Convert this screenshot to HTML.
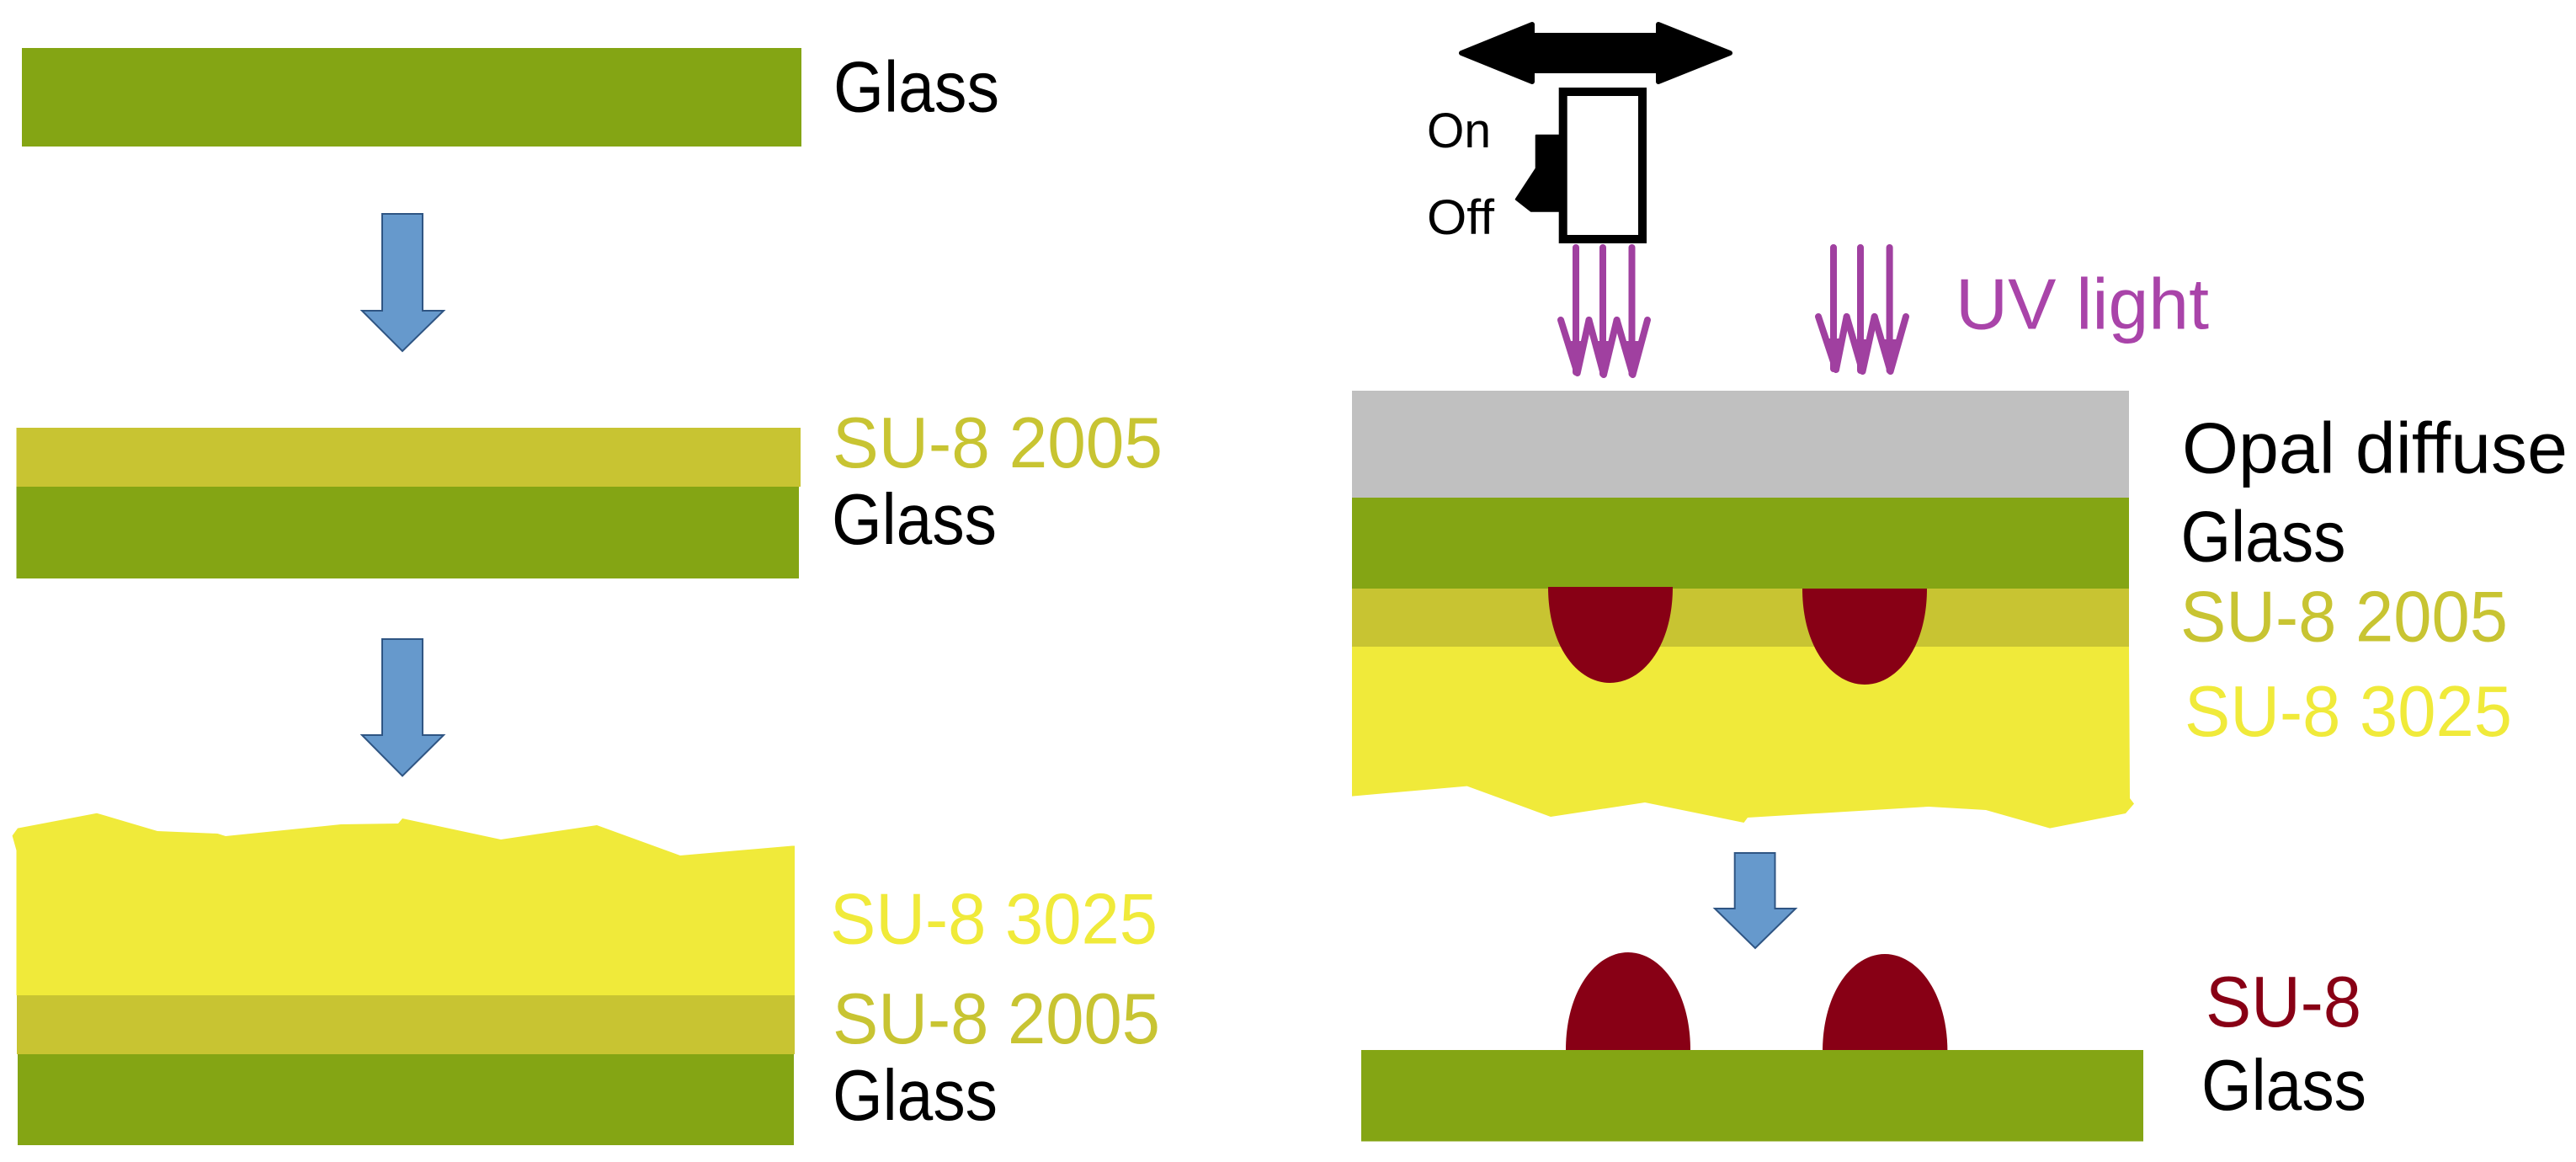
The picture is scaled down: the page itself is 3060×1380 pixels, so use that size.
<!DOCTYPE html>
<html lang="en">
<head>
<meta charset="utf-8">
<title>SU-8 microlens fabrication process</title>
<style>
html,body{margin:0;padding:0;background:#fff;width:3060px;height:1380px;overflow:hidden}
svg{display:block}
text{font-family:"Liberation Sans",sans-serif;font-size:85px}
</style>
</head>
<body>
<svg width="3060" height="1380" viewBox="0 0 3060 1380" xmlns="http://www.w3.org/2000/svg">
<rect width="3060" height="1380" fill="#fff"/>

<!-- Left column -->
<rect x="26" y="57" width="926" height="117" fill="#84a514"/>
<polygon points="454,254 502,254 502,369 527,369 478,417 430,369 454,369" fill="#6699cc" stroke="#2f5583" stroke-width="2"/>

<rect x="19.5" y="508" width="931.5" height="70" fill="#c8c432"/>
<rect x="19.5" y="578" width="929.5" height="109" fill="#84a514"/>
<polygon points="454,759 502,759 502,873 527,873 478,921.5 430,873 454,873" fill="#6699cc" stroke="#2f5583" stroke-width="2"/>

<polygon points="19.5,1182 19.5,1010 14.6,992.5 21,983.6 115,965.7 187,987 258.5,990 268,993 405,979 473,978 478,972 595,997 709,980 808,1016 941,1004.5 944,1004.5 944,1182" fill="#f0ea3a"/>
<rect x="20" y="1182" width="924" height="70" fill="#c8c432"/>
<rect x="21" y="1252" width="922" height="108" fill="#84a514"/>

<!-- Right column: UV source -->
<polygon points="1736,63 1820,29 1820,42 1970,42 1970,29 2055,63 1970,97 1970,84 1820,84 1820,97" fill="#000" stroke="#000" stroke-width="6" stroke-linejoin="round"/>
<rect x="1856.7" y="109" width="94.3" height="175" fill="#fff" stroke="#000" stroke-width="10"/>
<polygon points="1851.7,160.7 1824.7,160.7 1824.7,200 1800.7,236.7 1818.6,250.7 1851.7,250.7" fill="#000" stroke="#000" stroke-width="2" stroke-linejoin="round"/>

<!-- UV arrows -->
<g fill="none" stroke="#a040a0" stroke-width="8" stroke-linecap="round" stroke-linejoin="round">
  <path d="M1872,294V442M1854,380L1873.7,443L1887.5,380"/>
  <path d="M1904,294V444M1887.5,380L1905,445L1920.6,380"/>
  <path d="M1938.5,294V444M1920.6,380L1939.5,445L1957,380"/>
  <path d="M2178,294V438M2160,376L2181,439L2193.6,376"/>
  <path d="M2210,294V440M2193.6,376L2212.5,441L2226.7,376"/>
  <path d="M2244.6,294V440M2226.7,376L2245.6,441L2264,376"/>
</g>
<g fill="#a040a0">
  <polygon points="1862,405 1884,405 1873.7,447"/>
  <polygon points="1895,405 1915,405 1905,449"/>
  <polygon points="1929,405 1950,405 1939.5,449"/>
  <polygon points="2170,402 2190,402 2181,443"/>
  <polygon points="2202,403 2222,403 2212.5,445"/>
  <polygon points="2235,403 2256,403 2245.6,445"/>
</g>

<!-- Right column: stack -->
<rect x="1606" y="464" width="923" height="127" fill="#c0c0c0"/>
<rect x="1606" y="591" width="923" height="108" fill="#84a514"/>
<rect x="1606" y="699" width="923" height="69" fill="#c8c432"/>
<polygon points="1606,768 2529,768 2530,948 2535,954.5 2525,966 2435,983.6 2359,962 2291,958 2076,971 2071.5,977 1954,953 1842,970 1742.7,933.6 1606,945.6" fill="#f0ea3a"/>
<path d="M1839,697 C1839,768 1874,811 1912.4,811 C1951,811 1987,768 1987,697 Z" fill="#880015"/>
<path d="M2141,699 C2141,770 2177,813 2215,813 C2253,813 2289,770 2289,699 Z" fill="#880015"/>

<polygon points="2060.7,1013 2108.5,1013 2108.5,1079 2133,1079 2085,1126 2037,1079 2060.7,1079" fill="#6699cc" stroke="#2f5583" stroke-width="2"/>

<path d="M1860,1247 C1860,1176 1896,1131 1934,1131 C1972,1131 2008,1176 2008,1247 Z" fill="#880015"/>
<path d="M2165,1249 C2165,1178 2201,1133 2239,1133 C2277,1133 2313.4,1178 2313.4,1249 Z" fill="#880015"/>
<rect x="1617" y="1247" width="929" height="108.5" fill="#84a514"/>

<!-- Labels -->
<text x="990" y="132.6" textLength="197" lengthAdjust="spacingAndGlyphs" fill="#000">Glass</text>
<text x="989" y="555" textLength="392" lengthAdjust="spacingAndGlyphs" fill="#c8c432">SU-8 2005</text>
<text x="988" y="646" textLength="196" lengthAdjust="spacingAndGlyphs" fill="#000">Glass</text>
<text x="986" y="1120.6" textLength="389" lengthAdjust="spacingAndGlyphs" fill="#f0ea3a">SU-8 3025</text>
<text x="989" y="1239" textLength="389" lengthAdjust="spacingAndGlyphs" fill="#c8c432">SU-8 2005</text>
<text x="989" y="1330" textLength="196" lengthAdjust="spacingAndGlyphs" fill="#000">Glass</text>

<text x="1695" y="175" textLength="76" lengthAdjust="spacingAndGlyphs" style="font-size:58px" fill="#000">On</text>
<text x="1695" y="278" textLength="80" lengthAdjust="spacingAndGlyphs" style="font-size:58px" fill="#000">Off</text>

<text x="2323" y="390.6" textLength="301" lengthAdjust="spacingAndGlyphs" fill="#a944a9">UV light</text>
<text x="2592" y="561.6" textLength="458" lengthAdjust="spacingAndGlyphs" fill="#000">Opal diffuse</text>
<text x="2590.5" y="666.5" textLength="196" lengthAdjust="spacingAndGlyphs" fill="#000">Glass</text>
<text x="2590" y="761.7" textLength="389" lengthAdjust="spacingAndGlyphs" fill="#c8c432">SU-8 2005</text>
<text x="2595" y="874" textLength="389" lengthAdjust="spacingAndGlyphs" fill="#f0ea3a">SU-8 3025</text>
<text x="2620" y="1219" textLength="185" lengthAdjust="spacingAndGlyphs" fill="#880015">SU-8</text>
<text x="2615" y="1318" textLength="196" lengthAdjust="spacingAndGlyphs" fill="#000">Glass</text>
</svg>
</body>
</html>
